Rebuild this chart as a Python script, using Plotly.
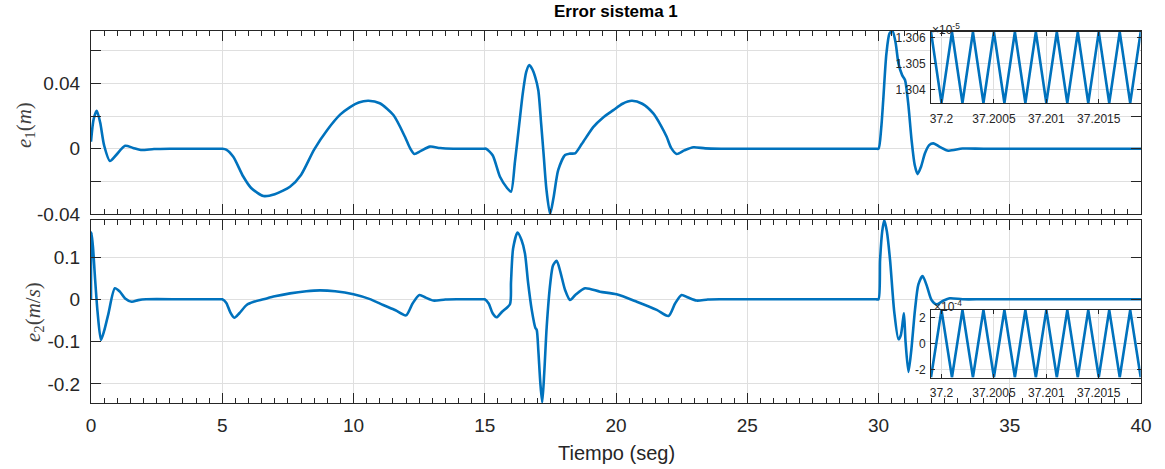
import plotly.graph_objects as go

# ---------------- data ----------------
t1 = [0, 0.1, 0.22, 0.35, 0.5, 0.72, 0.95, 1.3, 1.6, 1.9, 2.4, 3.0, 4.9, 5.0,
      5.15, 5.42, 5.8, 6.1, 6.57, 7.0, 7.58, 8.0, 8.5, 9.0, 9.5, 9.87, 10.2,
      10.57, 11.0, 11.52, 11.96, 12.15, 12.32, 12.55, 12.91, 13.3, 13.8, 14.5,
      14.95, 15.05,
      15.3, 15.58, 15.85, 16.0, 16.15, 16.3, 16.45, 16.58, 16.69, 16.8, 16.92,
      17.04, 17.15,
      17.24, 17.35, 17.49, 17.62, 17.8, 18.06, 18.25, 18.44, 18.7, 19.14, 19.5,
      19.9, 20.25, 20.6, 21.0, 21.42, 21.7, 21.93, 22.1, 22.31, 22.6, 22.95,
      23.4, 24.0, 27.0, 29.9, 30.0, 30.1, 30.18, 30.3, 30.42, 30.53, 30.65,
      30.76, 30.9,
      31.01, 31.13, 31.26, 31.38, 31.49, 31.62, 31.77, 31.93, 32.09, 32.35,
      32.66, 33.2, 34.0, 37.0, 40.0]
e1 = [0.0043, 0.018, 0.0232, 0.016, 0.002, -0.0075, -0.004, 0.0018, 0.0005,
      -0.0008, -0.0002, 0.0, 0.0, 0.0,
      -0.0005, -0.0049, -0.017, -0.024, -0.0289, -0.0278, -0.0232, -0.016,
      -0.0005, 0.0115, 0.021, 0.0255, 0.0283,
      0.0293, 0.0278, 0.0206, 0.0073, 0.0005, -0.0032, -0.0015, 0.0013, 0.0004,
      0.0, 0.0, 0.0, 0.0,
      -0.004, -0.0171, -0.024, -0.0263, -0.008, 0.013, 0.034, 0.047, 0.0511,
      0.049, 0.044,
      0.0358, 0.015,
      -0.0028, -0.025, -0.0399, -0.030, -0.013, -0.0038, -0.003, -0.0028,
      0.003, 0.0134, 0.019,
      0.0236, 0.0275, 0.0293, 0.0275, 0.0216, 0.0145, 0.0073, 0.0005, -0.0032,
      -0.001, 0.0009,
      0.0002, 0.0, 0.0, 0.0, 0.0, 0.012, 0.0297, 0.058, 0.0705, 0.0721, 0.065,
      0.0522, 0.045,
      0.042, 0.028, 0.0053, -0.010, -0.0155, -0.011, -0.0028, 0.0022, 0.0033,
      0.001,
      -0.0012, 0.0001, 0.0, 0.0, 0.0]

t2 = [0, 0.02, 0.08, 0.15, 0.25, 0.38, 0.5, 0.66, 0.91, 1.1, 1.3, 1.55, 1.8,
      2.1, 3.5, 4.9, 5.0, 5.15, 5.3, 5.46, 5.65, 5.93, 6.2, 6.57, 7.0, 7.58,
      8.2, 8.72,
      9.3, 10.0, 10.6, 11.13, 11.6, 12.0, 12.25, 12.51, 12.75, 13.04, 13.5,
      14.0, 14.9, 15.0, 15.15, 15.3, 15.45, 15.65, 15.96, 16.0, 16.08, 16.25,
      16.4,
      16.53, 16.65, 16.79, 16.93, 16.98, 17.04, 17.12, 17.19, 17.27, 17.36,
      17.5, 17.6, 17.74, 17.88, 18.06, 18.25, 18.45, 18.82, 19.39, 20.02,
      20.79, 21.55, 22.0, 22.25, 22.5, 22.75, 23.07, 23.5, 24.0, 27.0, 29.9,
      30.0, 30.06,
      30.14, 30.22, 30.32, 30.44, 30.6, 30.76, 30.85, 30.93, 30.97, 31.03,
      31.14, 31.25, 31.39, 31.52, 31.68, 31.85, 32.02, 32.21, 32.45, 32.72,
      33.2, 34.0, 37.0, 40.0]
e2 = [0.0, 0.158, 0.12, 0.053, -0.03, -0.096, -0.075, -0.035, 0.026, 0.018,
      0.002, -0.0057, -0.002,
      0.0, 0.0, 0.0, 0.0, -0.008, -0.03, -0.0435, -0.033, -0.0135, -0.006,
      0.0, 0.007, 0.014,
      0.019, 0.021,
      0.019, 0.012, 0.001, -0.0135, -0.026, -0.038, -0.010, 0.0102, 0.004,
      -0.003, -0.0005,
      0.0, 0.0, 0.0, -0.010, -0.033, -0.0426, -0.030, -0.0118, 0.04, 0.12,
      0.158,
      0.14,
      0.109, 0.04, -0.025, -0.068, -0.0726, -0.12, -0.20, -0.244, -0.17,
      -0.065,
      0.04, 0.08, 0.091, 0.065, 0.022, -0.0017, 0.010, 0.026, 0.018, 0.0118,
      -0.0057, -0.025, -0.0395, -0.010, 0.0102, 0.004, -0.003, -0.0005, 0.0,
      0.0, 0.0,
      0.0, 0.093,
      0.16, 0.187, 0.16, 0.093, -0.03, -0.0946, -0.085, -0.05, -0.033, -0.10,
      -0.172, -0.12, -0.025, 0.035, 0.055, 0.03, -0.0016, -0.012, -0.004,
      0.0024,
      0.0, 0.0, 0.0, 0.0]

# zoomed windows (insets)
tz = [37.1999, 37.2000, 37.2001, 37.2002, 37.2003, 37.2004, 37.2005,
      37.2006, 37.2007, 37.2008, 37.2009, 37.2010, 37.2011, 37.2012,
      37.2013, 37.2014, 37.2015, 37.2016, 37.2017, 37.2018, 37.2019]
z1 = [1.30622, 1.30350, 1.30622, 1.30350, 1.30622, 1.30350, 1.30622,
      1.30350, 1.30622, 1.30350, 1.30622, 1.30350, 1.30622, 1.30350,
      1.30622, 1.30350, 1.30622, 1.30350, 1.30622, 1.30350, 1.30622]  # x1e-5
z2 = [-2.6, 2.6, -2.6, 2.6, -2.6, 2.6, -2.6, 2.6, -2.6, 2.6, -2.6,
      2.6, -2.6, 2.6, -2.6, 2.6, -2.6, 2.6, -2.6, 2.6, -2.6]  # x1e-4

xticks_main = [0, 5, 10, 15, 20, 25, 30, 35, 40]
xlabels_main = ["0", "5", "10", "15", "20", "25", "30", "35", "40"]
y1ticks = [-0.04, 0, 0.04]
y1labels = ["-0.04", "0", "0.04"]
y2ticks = [-0.2, -0.1, 0, 0.1]
y2labels = ["-0.2", "-0.1", "0", "0.1"]
zxticks = [37.2, 37.2005, 37.201, 37.2015]
zxlabels = ["37.2", "37.2005", "37.201", "37.2015"]
z1ticks = [1.304, 1.305, 1.306]
z1labels = ["1.304", "1.305", "1.306"]
z2ticks = [-2, 0, 2]
z2labels = ["-2", "0", "2"]

# ---------------- layout helpers ----------------
W, H = 1165, 469
def fx(p):
    return p / W
def fy(p):
    return 1 - p / H

BLUE = "#0072BD"
DARK = "#262626"
GRID = "#dfdfdf"
SANS = "Liberation Sans, Arial, sans-serif"
SERIF = "Liberation Serif, Times New Roman, serif"

fig = go.Figure()
fig.add_trace(go.Scatter(x=t1, y=e1, xaxis="x", yaxis="y", mode="lines",
                         line=dict(color=BLUE, width=2.6, shape="spline", smoothing=0.7)))
fig.add_trace(go.Scatter(x=t2, y=e2, xaxis="x2", yaxis="y2", mode="lines",
                         line=dict(color=BLUE, width=2.6, shape="spline", smoothing=0.7)))
fig.add_trace(go.Scatter(x=tz, y=z1, xaxis="x3", yaxis="y3", mode="lines",
                         line=dict(color=BLUE, width=2.6)))
fig.add_trace(go.Scatter(x=tz, y=z2, xaxis="x4", yaxis="y4", mode="lines",
                         line=dict(color=BLUE, width=2.6)))

common = dict(showline=True, linecolor=DARK, linewidth=1, mirror="allticks",
              ticks="inside", tickcolor=DARK, tickwidth=1, showgrid=True,
              gridcolor=GRID, gridwidth=1, zeroline=False, automargin=False)
main_font = dict(family=SANS, size=19, color=DARK)
inset_font = dict(family=SANS, size=12, color=DARK)
minor_x = dict(dtick=0.5, tick0=0, ticks="inside", ticklen=5, tickcolor=DARK,
               tickwidth=1, showgrid=False)
minor_y1 = dict(dtick=0.02, tick0=0, ticks="inside", ticklen=10, tickcolor=DARK,
                tickwidth=1, showgrid=True, gridcolor=GRID, gridwidth=1)

fig.update_layout(
    width=W, height=H, autosize=False,
    margin=dict(l=0, r=0, t=0, b=0),
    paper_bgcolor="white", plot_bgcolor="white",
    showlegend=False, template="none",
    xaxis=dict(domain=[fx(91), fx(1141)], range=[0, 40], anchor="y",
               tickvals=xticks_main, ticktext=xlabels_main, ticklen=10,
               showticklabels=False, minor=minor_x, tickfont=main_font, **common),
    yaxis=dict(domain=[fy(214.3), fy(31)], range=[-0.0401, 0.0720], anchor="x",
               tickvals=y1ticks, ticktext=y1labels, ticklen=10, minor=minor_y1,
               tickfont=main_font, ticklabelstandoff=6, **common),
    xaxis2=dict(domain=[fx(91), fx(1141)], range=[0, 40], anchor="y2",
                tickvals=xticks_main, ticktext=xlabels_main, ticklen=10,
                minor=minor_x, tickfont=main_font, ticklabelstandoff=5, **common),
    yaxis2=dict(domain=[fy(403.3), fy(220)], range=[-0.246, 0.1875], anchor="x2",
                tickvals=y2ticks, ticktext=y2labels, ticklen=10,
                tickfont=main_font, ticklabelstandoff=6, **common),
    xaxis3=dict(domain=[fx(931), fx(1140.7)], range=[37.1999, 37.2019], anchor="y3",
                tickvals=zxticks, ticktext=zxlabels, ticklen=4,
                tickfont=inset_font, ticklabelstandoff=4, **common),
    yaxis3=dict(domain=[fy(103.3), fy(31.7)], range=[1.30349, 1.30623], anchor="x3",
                tickvals=z1ticks, ticktext=z1labels, ticklen=4,
                tickfont=inset_font, ticklabelstandoff=2, **common),
    xaxis4=dict(domain=[fx(931), fx(1140.7)], range=[37.1999, 37.2019], anchor="y4",
                tickvals=zxticks, ticktext=zxlabels, ticklen=4,
                tickfont=inset_font, ticklabelstandoff=4, **common),
    yaxis4=dict(domain=[fy(377.7), fy(310)], range=[-2.63, 2.6], anchor="x4",
                tickvals=z2ticks, ticktext=z2labels, ticklen=4,
                tickfont=inset_font, ticklabelstandoff=2, **common),
)

ann = [
    dict(text="<b>Error sistema 1</b>", x=fx(616), y=fy(12), xref="paper", yref="paper",
         xanchor="center", yanchor="middle", showarrow=False,
         font=dict(family=SANS, size=17, color="black")),
    dict(text="Tiempo (seg)", x=fx(616), y=fy(453), xref="paper", yref="paper",
         xanchor="center", yanchor="middle", showarrow=False,
         font=dict(family=SANS, size=20, color=DARK)),
    dict(text="<i>e</i><sub>1</sub>(<i>m</i>)", x=fx(25), y=fy(125), xref="paper",
         yref="paper", xanchor="center", yanchor="middle", textangle=-90,
         showarrow=False, font=dict(family=SERIF, size=21, color="#404040")),
    dict(text="<i>e</i><sub>2</sub>(<i>m</i>/<i>s</i>)", x=fx(34), y=fy(312),
         xref="paper", yref="paper", xanchor="center", yanchor="middle",
         textangle=-90, showarrow=False,
         font=dict(family=SERIF, size=21, color="#404040")),
    dict(text="×10<sup>-5</sup>", x=fx(930), y=fy(29), xref="paper", yref="paper",
         xanchor="left", yanchor="middle", showarrow=False,
         font=dict(family=SANS, size=12, color=DARK)),
    dict(text="×10<sup>-4</sup>", x=fx(932), y=fy(306), xref="paper", yref="paper",
         xanchor="left", yanchor="middle", showarrow=False,
         font=dict(family=SANS, size=12, color=DARK)),
]
fig.update_layout(annotations=ann)

# remove the default 8px page margin so the figure fills the window exactly
fig.write_html("out.html", config={"displayModeBar": False},
               post_script="document.body.style.margin='0';document.body.style.padding='0';")
